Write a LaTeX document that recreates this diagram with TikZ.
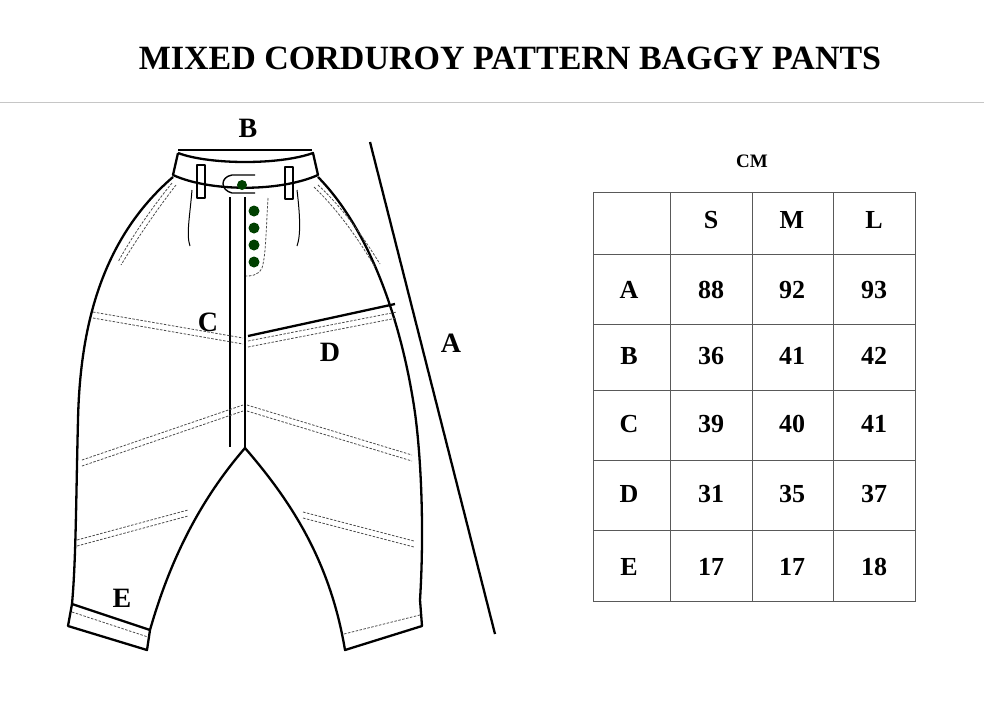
\documentclass[tikz,border=0pt]{standalone}
\usepackage{fontspec}
\setmainfont{Liberation Serif}
\begin{document}
\begin{tikzpicture}[x=1pt,y=-1pt,
  ol/.style={line width=2.3pt,line join=round},
  thin/.style={line width=1pt},
  dsh/.style={gray!60!black,line width=0.8pt,dash pattern=on 2.5pt off 1.5pt},
  lab/.style={font=\bfseries\fontsize{28}{30}\selectfont},
  cell/.style={font=\bfseries\fontsize{26}{28}\selectfont},
  btn/.style={fill=green!25!black,draw=none}]
\useasboundingbox (0,0) rectangle (984,702);
\node[font=\bfseries\fontsize{34}{36}\selectfont] (title) at (510,58) {MIXED CORDUROY PATTERN BAGGY PANTS};
\draw[gray!45,line width=1pt] (0,102) -- (984,102);
% measurement lines
\draw[ol] (178,150) -- (312,150);
\draw[ol] (370,142) -- (495,634);
\draw[ol] (248,336) -- (395,304);
\draw[ol] (72,604) -- (150,630);
\node[lab] (lB) at (248,128) {B};
\node[lab] (lC) at (208,322) {C};
\node[lab] (lD) at (330,352) {D};
\node[lab] (lA) at (451,343) {A};
\node[lab] (lE) at (122,598) {E};
% waistband
\draw[ol] (178,153) -- (173,175) .. controls (210,192) and (280,192) .. (318,175) -- (313,153) .. controls (280,165) and (210,165) .. (178,153);
% belt loops
\draw[ol,line width=1.6pt] (197,165) rectangle (205,198);
\draw[ol,line width=1.6pt] (285,167) rectangle (293,199);
% tab
\draw[ol,line width=1.4pt] (255,175) -- (232,175) .. controls (220,177) and (220,190) .. (232,193) -- (255,193);
\fill[btn] (242,185) circle (5);
% outer legs
\draw[ol] (173,177) .. controls (100,240) and (80,330) .. (78,420) .. controls (76,500) and (76,560) .. (72,604) -- (68,626) -- (147,650) -- (150,630) .. controls (170,560) and (200,500) .. (245,448)
  .. controls (290,500) and (330,560) .. (345,650) -- (422,626) -- (420,600) .. controls (425,520) and (420,440) .. (413,400) .. controls (400,320) and (370,230) .. (318,177);
% fly
\draw[ol] (230,197) -- (230,447);
\draw[ol] (245,197) -- (245,448);
\draw[dsh] (268,198) .. controls (266,230) and (266,255) .. (262,268) .. controls (258,276) and (250,276) .. (246,276);
\foreach \yy in {211,228,245,262} \fill[btn] (254,\yy) circle (5.5);
% pleats
\draw[thin] (192,190) .. controls (190,215) and (186,235) .. (190,246);
\draw[thin] (297,190) .. controls (300,215) and (301,235) .. (297,246);
% pockets
\draw[dsh] (172,183) .. controls (150,210) and (130,240) .. (118,262);
\draw[dsh] (176,185) .. controls (155,212) and (135,242) .. (121,265);
\draw[dsh] (318,185) .. controls (345,210) and (365,240) .. (380,264);
\draw[dsh] (314,187) .. controls (340,212) and (360,242) .. (375,267);
% seams
\draw[dsh] (93,312) -- (243,338); \draw[dsh] (93,318) -- (243,344);
\draw[dsh] (248,341) -- (397,312); \draw[dsh] (248,347) -- (397,318);
\draw[dsh] (82,460) -- (243,405); \draw[dsh] (82,466) -- (243,411);
\draw[dsh] (247,405) -- (412,455); \draw[dsh] (247,411) -- (412,461);
\draw[dsh] (77,540) -- (188,510); \draw[dsh] (77,546) -- (188,516);
\draw[dsh] (303,512) -- (414,541); \draw[dsh] (303,518) -- (414,547);
\draw[dsh] (72,612) -- (148,637);
\draw[dsh] (344,634) -- (420,615);
% table
\node[font=\bfseries\fontsize{19}{21}\selectfont] (cm) at (752,161) {CM};
\draw[gray!70!black,line width=1pt] (593,192) rectangle (915,601);
\foreach \xx in {670,752,833} \draw[gray!70!black,line width=1pt] (\xx,192) -- (\xx,601);
\foreach \yy in {254,324,390,460,530} \draw[gray!70!black,line width=1pt] (593,\yy) -- (915,\yy);
\node[cell] (hS) at (711,220) {S};
\node[cell] (hM) at (792,220) {M};
\node[cell] (hL) at (874,220) {L};
\foreach \r/\yc/\a/\b/\c in {A/290/88/92/93, B/356/36/41/42, C/424/39/40/41, D/494/31/35/37, E/567/17/17/18}{
  \node[cell] (r\r) at (629,\yc) {\r};
  \node[cell] (s\r) at (711,\yc) {\a};
  \node[cell] (m\r) at (792,\yc) {\b};
  \node[cell] (l\r) at (874,\yc) {\c};
}
\end{tikzpicture}
\end{document}
